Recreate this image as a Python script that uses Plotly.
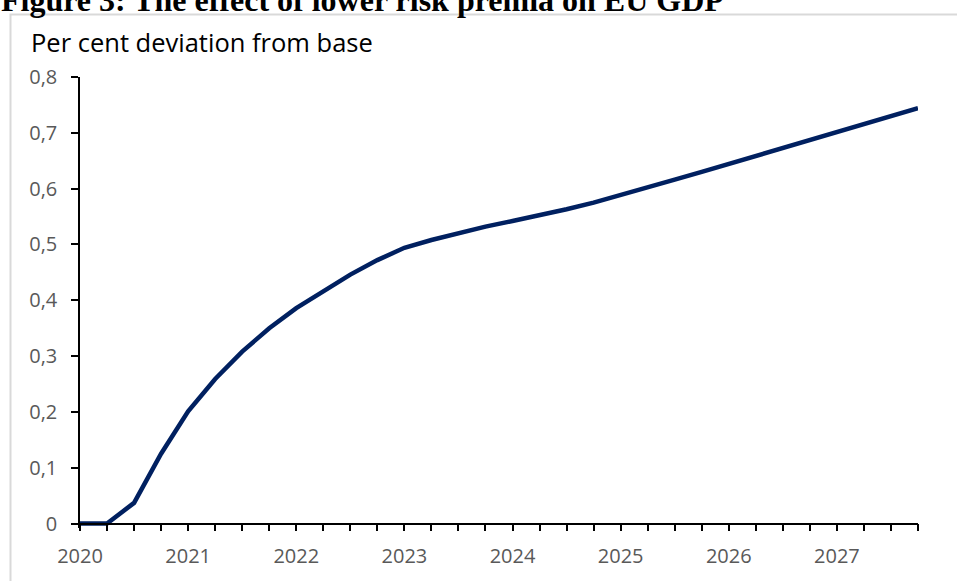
import plotly.graph_objects as go

quarters = list(range(32))
gdp_dev = [0.0, 0.0, 0.037, 0.125, 0.201, 0.259, 0.308, 0.350,
           0.386, 0.417, 0.446, 0.472, 0.494, 0.508, 0.521, 0.532,
           0.542, 0.552, 0.563, 0.575, 0.588, 0.602, 0.616, 0.630,
           0.644, 0.659, 0.674, 0.688, 0.702, 0.716, 0.730, 0.744]
year_ticks = [0, 4, 8, 12, 16, 20, 24, 28]
year_labels = ["2020", "2021", "2022", "2023", "2024", "2025", "2026", "2027"]
y_ticks = [0, 0.1, 0.2, 0.3, 0.4, 0.5, 0.6, 0.7, 0.8]
y_labels = ["0", "0,1", "0,2", "0,3", "0,4", "0,5", "0,6", "0,7", "0,8"]

W, H = 957, 581
L, R, T, B = 80, 39, 77, 49.5
pw, ph = W - L - R, H - T - B

def px(x):
    return (x - L) / pw

def py(y):
    return (H - B - y) / ph

fig = go.Figure()
fig.add_trace(go.Scatter(
    x=quarters, y=gdp_dev, mode="lines",
    line=dict(color="#002060", width=4.5),
    hoverinfo="skip", showlegend=False,
))

fig.update_layout(
    width=W, height=H,
    margin=dict(l=L, r=R, t=T, b=B, pad=0),
    paper_bgcolor="white", plot_bgcolor="white",
    font=dict(family="Open Sans", color="#595959", size=20),
    xaxis=dict(
        range=[0, 31], tickmode="array", tickvals=year_ticks, ticktext=year_labels,
        showgrid=False, zeroline=False, showline=True, linecolor="black", linewidth=1.5,
        ticks="outside", ticklen=7, tickwidth=1.5, tickcolor="black",
        minor=dict(tickmode="linear", tick0=0, dtick=1, ticks="outside", ticklen=7,
                   tickwidth=1.5, tickcolor="black", showgrid=False),
        anchor="free", position=0.008 / 0.808,
        tickfont=dict(size=20, color="#595959"),
        ticklabelstandoff=8,
    ),
    yaxis=dict(
        range=[-0.008, 0.8], tickmode="array", tickvals=y_ticks, ticktext=y_labels,
        showgrid=False, zeroline=False, showline=True, linecolor="black", linewidth=1.5,
        ticks="outside", ticklen=7, tickwidth=1.5, tickcolor="black",
        tickfont=dict(size=20, color="#595959"),
        ticklabelstandoff=10,
    ),
    shapes=[dict(type="rect", xref="paper", yref="paper",
                 x0=px(10.5), x1=px(1000), y0=py(700), y1=py(14),
                 line=dict(color="#d9d9d9", width=2), fillcolor="rgba(0,0,0,0)",
                 layer="below")],
    annotations=[
        dict(text="Per cent deviation from base", xref="paper", yref="paper",
             x=px(29), y=py(23), xanchor="left", yanchor="top", showarrow=False,
             font=dict(family="Open Sans", size=25.5, color="black")),
        dict(text="<b>Figure 3: The effect of lower risk premia on EU GDP</b>",
             xref="paper", yref="paper", x=px(-1), y=py(-21), xanchor="left",
             yanchor="top", showarrow=False,
             font=dict(family="Liberation Serif", size=32, color="black")),
    ],
)

fig.write_html("out.html")
